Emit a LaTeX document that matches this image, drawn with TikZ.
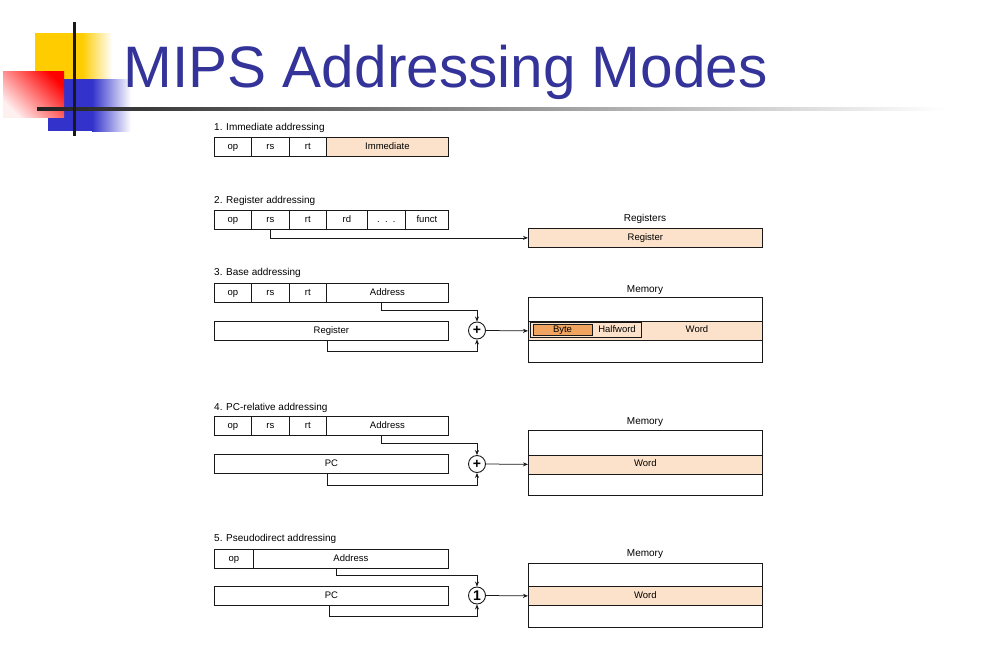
\documentclass[tikz,border=0pt]{standalone}
\usepackage{fontspec}
\setmainfont{Liberation Sans}
\usetikzlibrary{arrows.meta,calc}

\definecolor{titleblue}{RGB}{51,51,153}
\definecolor{peach}{RGB}{252,226,202}
\definecolor{byteorange}{RGB}{240,164,96}
\definecolor{decoyellow}{RGB}{255,204,0}
\definecolor{decoblue}{RGB}{51,51,204}
\definecolor{decored}{RGB}{255,0,0}
\definecolor{inkgray}{RGB}{25,25,25}

\begin{document}
\begin{tikzpicture}[x=1pt,y=-1pt,
  field/.style={draw=inkgray, line width=0.75pt, minimum height=19pt,
    inner sep=0pt, anchor=west, text height=7pt, text depth=2pt,
    font=\fontsize{9.5}{11}\selectfont},
  cell/.style={draw=inkgray, line width=0.75pt, inner sep=0pt,
    anchor=north west, minimum width=234pt, text height=7pt, text depth=2pt},
  caption/.style={anchor=west, inner sep=0pt, font=\fontsize{10}{12}\selectfont},
  heading/.style={inner sep=0pt, font=\fontsize{10}{12}\selectfont},
  adder/.style={circle, draw=inkgray, line width=0.9pt, minimum size=17pt,
    inner sep=0pt, font=\fontsize{14}{14}\selectfont\bfseries},
  wire/.style={draw=inkgray, line width=0.75pt, -{Stealth[length=5pt,width=4pt]}},
  celltext/.style={inner sep=0pt, text height=7pt, text depth=2pt,
    font=\fontsize{9.5}{11}\selectfont}
]
\useasboundingbox (0,0) rectangle (987,656);

% ---- corner ornament ----
\fill[decoyellow] (35,33) rectangle (82,79);
\shade[left color=decoyellow, right color=white] (82,33) rectangle (112,79);
\fill[decoblue] (48,79) rectangle (92,131);
\shade[left color=decoblue, right color=white] (92,79) rectangle (131,131);
\shade[left color=decored!6, right color=decored, shading angle=135] (3,71) rectangle (64,117);
\shade[left color=black!87, right color=white] (37,107.5) rectangle (945,110.5);
\fill[inkgray] (72.5,22) rectangle (75.5,136);

% ---- title ----
\node[anchor=base west, inner sep=0pt, text=titleblue,
  font=\fontsize{58.5}{60}\selectfont] (title) at (123.5,87) {MIPS Addressing Modes};

% ---- 1. Immediate addressing ----
\node[caption] (cap1) at (214,128) {1. Immediate addressing};
\node[field, minimum width=37pt] (i-op) at (214,146.5) {op};
\node[field, minimum width=38pt] (i-rs) at (251,146.5) {rs};
\node[field, minimum width=37pt] (i-rt) at (289,146.5) {rt};
\node[field, minimum width=122pt, fill=peach] (i-imm) at (326,146.5) {Immediate};

% ---- 2. Register addressing ----
\node[caption] (cap2) at (214,201) {2. Register addressing};
\node[field, minimum width=37pt] (r-op) at (214,219.5) {op};
\node[field, minimum width=38pt] (r-rs) at (251,219.5) {rs};
\node[field, minimum width=37pt] (r-rt) at (289,219.5) {rt};
\node[field, minimum width=41pt] (r-rd) at (326,219.5) {rd};
\node[field, minimum width=38pt] (r-dots) at (367,219.5) {.\ \ .\ \ .};
\node[field, minimum width=43pt] (r-funct) at (405,219.5) {funct};
\node[heading] (r-regs) at (645,219) {Registers};
\node[cell, minimum height=19pt, fill=peach, font=\fontsize{9.5}{11}\selectfont] (r-reg) at (528,228) {Register};
\draw[wire] (r-rs.south) |- (r-reg.west);

% ---- 3. Base addressing ----
\node[caption] (cap3) at (214,273) {3. Base addressing};
\node[field, minimum width=37pt] (b-op) at (214,292.5) {op};
\node[field, minimum width=38pt] (b-rs) at (251,292.5) {rs};
\node[field, minimum width=37pt] (b-rt) at (289,292.5) {rt};
\node[field, minimum width=122pt] (b-addr) at (326,292.5) {Address};
\node[field, minimum width=234pt] (b-reg) at (214,330.5) {Register};
\node[adder] (b-add) at (477,330.5) {+};
\node[heading] (b-mem) at (645,290) {Memory};
\node[cell, minimum height=24pt] (b-top) at (528,297) {};
\node[cell, minimum height=19pt, fill=peach] (b-word) at (528,321) {};
\node[cell, minimum height=22pt] (b-bot) at (528,340) {};
\draw[line width=1.3pt, inkgray] (b-top.north east) -- (b-word.north east);
\node[draw=inkgray, line width=0.75pt, minimum width=111pt, minimum height=15pt,
  inner sep=0pt] (b-half) at (585.5,329.5) {};
\node[draw=inkgray, line width=0.75pt, fill=byteorange, minimum width=59pt,
  minimum height=11pt, celltext] (b-byte) at (562.5,329.5) {Byte};
\node[celltext] (b-halftext) at (617,329.5) {Halfword};
\node[celltext] (b-wordtext) at (697,329.5) {Word};
\draw[wire] ([xshift=-6pt]b-addr.south) -- ++(0,8) -| (b-add.north);
\draw[wire] ([xshift=-4pt]b-reg.south) -- ++(0,11) -| (b-add.south);
\draw[wire] (b-add.east) -- (b-word.west);

% ---- 4. PC-relative addressing ----
\node[caption] (cap4) at (214,408) {4. PC-relative addressing};
\node[field, minimum width=37pt] (p-op) at (214,425.5) {op};
\node[field, minimum width=38pt] (p-rs) at (251,425.5) {rs};
\node[field, minimum width=37pt] (p-rt) at (289,425.5) {rt};
\node[field, minimum width=122pt] (p-addr) at (326,425.5) {Address};
\node[field, minimum width=234pt] (p-pc) at (214,464) {PC};
\node[adder] (p-add) at (477,464) {+};
\node[heading] (p-mem) at (645,422) {Memory};
\node[cell, minimum height=24.5pt] (p-top) at (528,430) {};
\node[cell, minimum height=19pt, fill=peach, font=\fontsize{9.5}{11}\selectfont] (p-word) at (528,454.5) {Word};
\node[cell, minimum height=21.5pt] (p-bot) at (528,473.5) {};
\draw[line width=1.3pt, inkgray] (p-top.north east) -- (p-word.north east);
\draw[wire] ([xshift=-6pt]p-addr.south) -- ++(0,8) -| (p-add.north);
\draw[wire] ([xshift=-4pt]p-pc.south) -- ++(0,11) -| (p-add.south);
\draw[wire] (p-add.east) -- (p-word.west);

% ---- 5. Pseudodirect addressing ----
\node[caption] (cap5) at (214,539) {5. Pseudodirect addressing};
\node[field, minimum width=39pt] (d-op) at (214,558.5) {op};
\node[field, minimum width=195pt] (d-addr) at (253,558.5) {Address};
\node[field, minimum width=234pt] (d-pc) at (214,595.5) {PC};
\node[adder] (d-cat) at (477,595.5) {1};
\node[heading] (d-mem) at (645,554) {Memory};
\node[cell, minimum height=23pt] (d-top) at (528,563) {};
\node[cell, minimum height=19pt, fill=peach, font=\fontsize{9.5}{11}\selectfont] (d-word) at (528,586) {Word};
\node[cell, minimum height=22pt] (d-bot) at (528,605) {};
\draw[line width=1.3pt, inkgray] (d-top.north east) -- (d-word.north east);
\draw[wire] ([xshift=-14.5pt]d-addr.south) -- ++(0,7) -| (d-cat.north);
\draw[wire] ([xshift=-2pt]d-pc.south) -- ++(0,10.5) -| (d-cat.south);
\draw[wire] (d-cat.east) -- (d-word.west);
\end{tikzpicture}
\end{document}
